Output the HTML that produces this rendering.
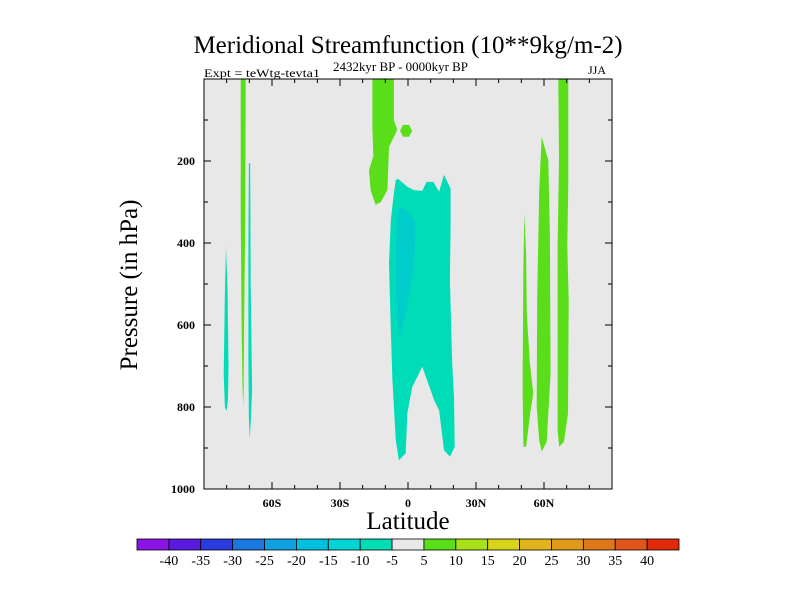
<!DOCTYPE html>
<html><head><meta charset="utf-8">
<style>
body{margin:0;background:#fff;}
svg{display:block;font-family:"Liberation Serif",serif;}
</style></head>
<body>
<svg id="chart" width="800" height="600">
<text x="408" y="53" text-anchor="middle" font-size="25">Meridional Streamfunction (10**9kg/m-2)</text>
<text x="333" y="71" font-size="13" textLength="135" lengthAdjust="spacingAndGlyphs">2432kyr BP - 0000kyr BP</text>
<text x="204" y="77" font-size="12" textLength="116" lengthAdjust="spacingAndGlyphs">Expt = teWtg-tevta1</text>
<text x="606" y="74" text-anchor="end" font-size="12">JJA</text>
<text x="0" y="0" transform="translate(137,285) rotate(-90)" text-anchor="middle" font-size="25">Pressure (in hPa)</text>
<text x="408" y="529" text-anchor="middle" font-size="25">Latitude</text>
<g id="plot"></g>
<g id="cbar"></g>
</svg>
<script>
const latTicks = [-60,-30,0,30,60];
const latTickLabels = ["60S","30S","0","30N","60N"];
const presTicks = [200,400,600,800,1000];
const levels = [-40,-35,-30,-25,-20,-15,-10,-5,5,10,15,20,25,30,35,40];
const levelColors = ["#8a14e6","#5a1ae0","#2a3ce0","#1a78e0","#10a0e0","#00c0e0","#00d4d4","#00dcb4","#e8e8e8","#5ade1a","#a8e01a","#d8d41a","#e0b41a","#e09a1a","#e0781a","#e0561a","#e02a0a"];
// contour regions: [lat, pressure]
const tealLeft = [[-80.3,410],[-79.6,520],[-79.2,700],[-79.4,780],[-80,810],[-80.8,800],[-81.3,720],[-80.8,520]];
const greenLeft = [[-73.8,0],[-71.6,0],[-71.8,330],[-72.3,600],[-72.5,750],[-72.7,800],[-73.0,750],[-73.4,600],[-73.8,330]];
const tealLeft2 = [[-70.2,205],[-69.6,205],[-69.4,500],[-68.8,760],[-69.3,830],[-69.8,877],[-70.2,830],[-70.4,700],[-70.4,400]];
const greenTop = [[-15.7,0],[-6.2,0],[-6.2,100],[-4.7,124],[-8.4,166],[-9.1,271],[-12,300],[-14.3,307],[-16.5,271],[-17.2,222],[-15.3,188],[-15.7,120]];
const greenDot = [[-3.5,126],[-2.2,112],[0.5,112],[1.8,126],[0.5,141],[-2.2,141]];
const tealCenter = [[-5.4,246],[-4.3,244],[-0.3,263],[2.6,271],[6.3,273],[8.2,251],[11.2,251],[13.7,275],[15.9,234],[18.8,267],[18.8,360],[18.5,490],[19.5,694],[20.3,775],[20.6,897],[18.5,921],[15.9,905],[13.7,808],[11.5,783],[6.3,702],[1.9,751],[-0.3,816],[-1,913],[-4,930],[-5.4,881],[-6.9,734],[-7.6,612],[-8.4,450],[-7.6,344],[-6.2,279]];
const cyanCore = [[-4,316],[-1.8,316],[1.9,336],[3.4,352],[2.6,458],[0.4,531],[-3.2,629],[-5,588],[-5.4,450],[-5,344]];
const greenR1 = [[51.3,328],[52.1,425],[52.4,572],[53.8,694],[55.3,767],[54.1,808],[52.1,897],[50.9,897],[50.6,775],[50.6,702],[50.9,466]];
const greenR2 = [[59,141],[61.9,198],[62.6,376],[62.9,718],[61.9,816],[61.2,885],[59,909],[57.9,881],[56.8,800],[57,531],[57.9,271]];
const greenR3 = [[66.3,0],[70.7,0],[70.7,254],[70.3,409],[70.9,539],[70.6,816],[68.8,885],[66.7,897],[66,856],[66,409],[66.6,198]];

const NS="http://www.w3.org/2000/svg";
const X0=204,X1=612,Y0=79,Y1=489;
const xs = lat => X0 + (lat+90)/180*(X1-X0);
const ys = p => Y0 + p/1000*(Y1-Y0);
function mk(tag, attrs, parent){const e=document.createElementNS(NS,tag);for(const k in attrs)e.setAttribute(k,attrs[k]);parent.appendChild(e);return e;}
const plot=document.getElementById('plot');
const bg=mk('rect',{x:X0,y:Y0,width:X1-X0,height:Y1-Y0,fill:'#e8e8e8'},plot);


function region(pts,color,name){
  const e=mk('polygon',{points:pts.map(q=>xs(q[0]).toFixed(1)+','+ys(q[1]).toFixed(1)).join(' '),fill:color},plot);
  
  
}
const G="#5ade1a",T="#00dcb8",C="#00cccc";
region(tealLeft,T,'contour-neg-left');
region(greenLeft,G,'contour-pos-left');
region(tealLeft2,T,'contour-neg-left-2');
region(greenTop,G,'contour-pos-upper-tropics');
region(greenDot,G,'contour-pos-small');
region(tealCenter,T,'contour-neg-hadley');
region(cyanCore,C,'contour-neg-hadley-core');
region(greenR1,G,'contour-pos-50n');
region(greenR2,G,'contour-pos-60n');
region(greenR3,G,'contour-pos-70n');
const fr=mk('rect',{x:X0,y:Y0,width:X1-X0,height:Y1-Y0,fill:'none',stroke:'#000','stroke-width':1},plot);


for(let lat=-80;lat<=80;lat+=10){
  const len = (lat%30===0)?7:4;
  mk('line',{x1:xs(lat),x2:xs(lat),y1:Y1,y2:Y1-len,stroke:'#000'},plot);
  mk('line',{x1:xs(lat),x2:xs(lat),y1:Y0,y2:Y0+len,stroke:'#000'},plot);
}
latTicks.forEach((lat,i)=>{
  const t=mk('text',{x:xs(lat),y:Y1+18,'text-anchor':'middle','font-size':12,'font-weight':'bold'},plot);
  t.textContent=latTickLabels[i];
  
  
});
for(let p=100;p<1000;p+=100){
  const len=(p%200===0)?7:4;
  mk('line',{x1:X0,x2:X0+len,y1:ys(p),y2:ys(p),stroke:'#000'},plot);
  mk('line',{x1:X1,x2:X1-len,y1:ys(p),y2:ys(p),stroke:'#000'},plot);
}
presTicks.forEach(p=>{
  const t=mk('text',{x:X0-9,y:ys(p)+4,'text-anchor':'end','font-size':12,'font-weight':'bold'},plot);
  t.textContent=p;
  
  
});
const cb=document.getElementById('cbar');
const CB0=137,CB1=679,CBY=539,CBH=11;
const bw=(CB1-CB0)/levelColors.length;
levelColors.forEach((c,i)=>{
  const r=mk('rect',{x:CB0+i*bw,y:CBY,width:bw,height:CBH,fill:c,stroke:'#000','stroke-width':0.8},cb);
  
  
});
levels.forEach((v,i)=>{
  const t=mk('text',{x:CB0+(i+1)*bw,y:CBY+CBH+15,'text-anchor':'middle','font-size':14},cb);
  t.textContent=v;
  
  
});
</script>
</body></html>
